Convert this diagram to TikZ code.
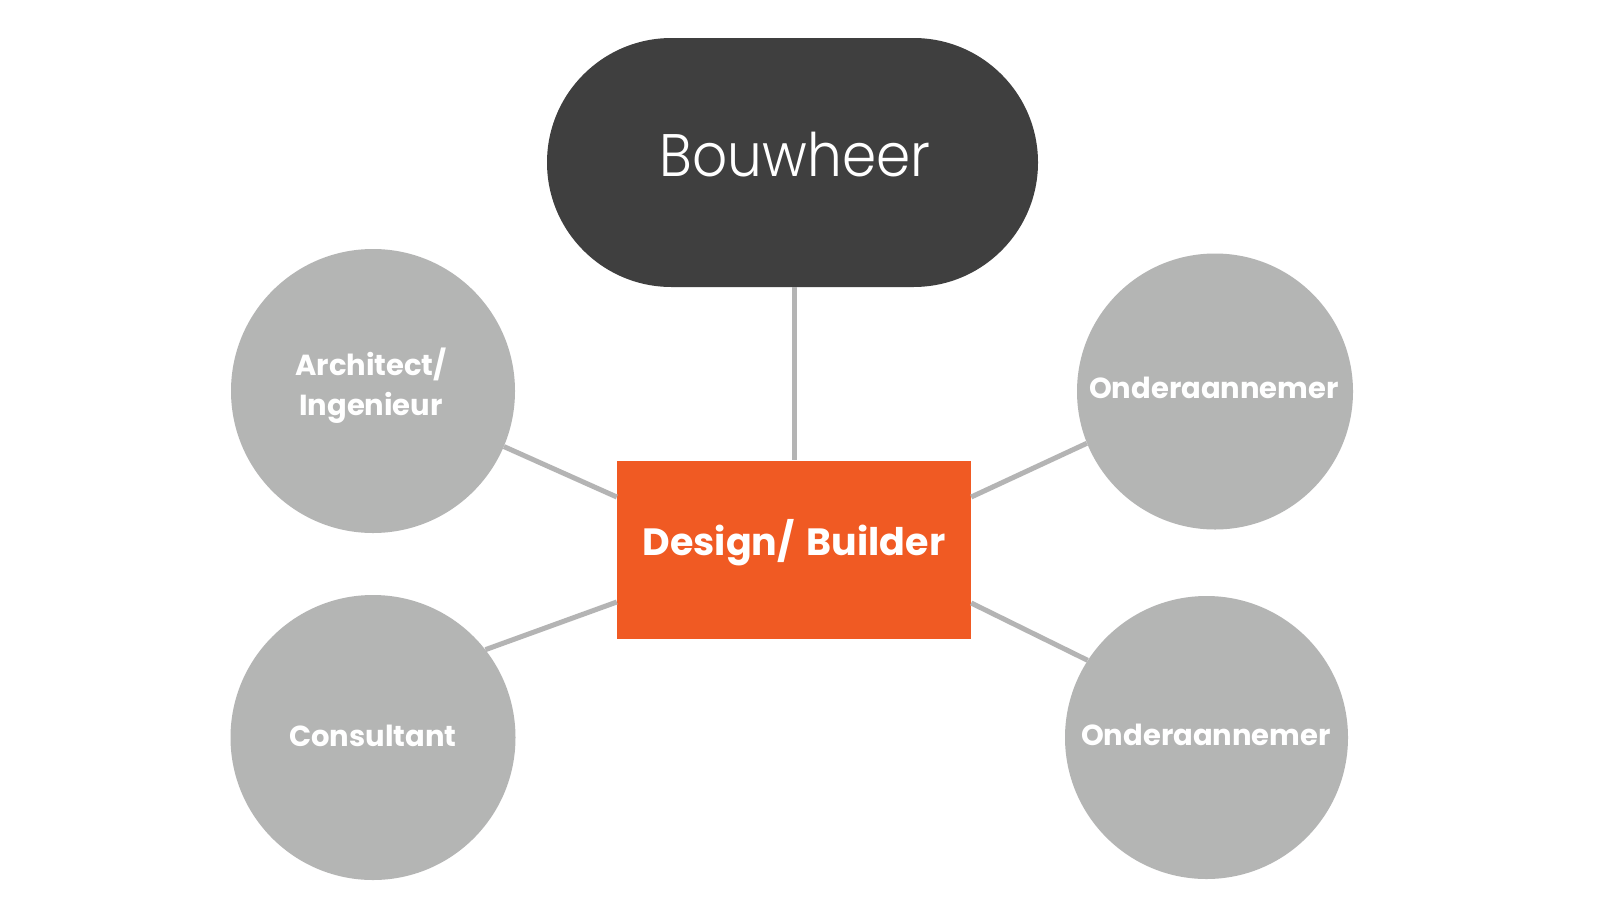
\documentclass[tikz,border=0pt]{standalone}
\usepackage{fontspec}
\setmainfont{Poppins}[BoldFont={* Bold}]
\newfontfamily\lightfont{Poppins Light}
\definecolor{darkbox}{HTML}{3F3F3F}
\definecolor{orangebox}{HTML}{F05A23}
\definecolor{greycirc}{HTML}{B4B5B4}
\definecolor{greyline}{HTML}{B4B4B4}
\tikzset{
  bwbox/.style={fill=darkbox, draw=none, rounded corners=124.5pt, minimum width=491pt, minimum height=249pt, inner sep=0pt},
  dbbox/.style={fill=orangebox, draw=none, minimum width=354pt, minimum height=178.5pt, inner sep=0pt},
  circ/.style={circle, fill=greycirc, draw=none, inner sep=0pt},
  conn/.style={draw=greyline, line width=5pt},
  bigtext/.style={text=white, font=\lightfont\fontsize{60}{60}\selectfont, anchor=base, inner sep=0pt, xscale=0.915},
  dbtext/.style={text=white, font=\bfseries\fontsize{38}{38}\selectfont, anchor=base, inner sep=0pt},
  ctext/.style={text=white, font=\bfseries\fontsize{29}{29}\selectfont, anchor=base, inner sep=0pt}
}
\begin{document}
\begin{tikzpicture}[x=1pt, y=-1pt]
\useasboundingbox (0,0) rectangle (1600,900);
\fill[white] (0,0) rectangle (1600,900);
% nodes
\node[bwbox] (bw) at (792.5,162.5) {};
\node[dbbox] (db) at (794,549.75) {};
\node[circ, minimum size=284pt] (arch) at (373,391) {};
\node[circ, minimum size=285pt] (cons) at (373,737.5) {};
\node[circ, minimum size=276pt] (on1) at (1215,391.5) {};
\node[circ, minimum size=283pt] (on2) at (1206.5,737.5) {};
% connectors
\draw[conn] (db.north |- bw.south) -- (db.north);
\draw[conn] (arch.337) -- ([yshift=52.75pt]db.west);
\draw[conn] (cons.38) -- ([yshift=-52.25pt]db.west);
\draw[conn] (on1.202) -- ([yshift=52.75pt]db.east);
\draw[conn] (on2.147) -- ([yshift=-53.25pt]db.east);
% labels
\node[bigtext] (bwlabel) at (795,176) {Bouwheer};
\node[dbtext] (dblabel) at (794,555) {Design/\hspace{4pt} Builder};
\node[ctext] (archlabelA) at (371,375) {Architect/};
\node[ctext] (archlabelB) at (371,415) {Ingenieur};
\node[ctext] (conslabel) at (373,746) {Consultant};
\node[ctext] (on1label) at (1214,398) {Onderaannemer};
\node[ctext] (on2label) at (1206,745) {Onderaannemer};
\end{tikzpicture}
\end{document}
